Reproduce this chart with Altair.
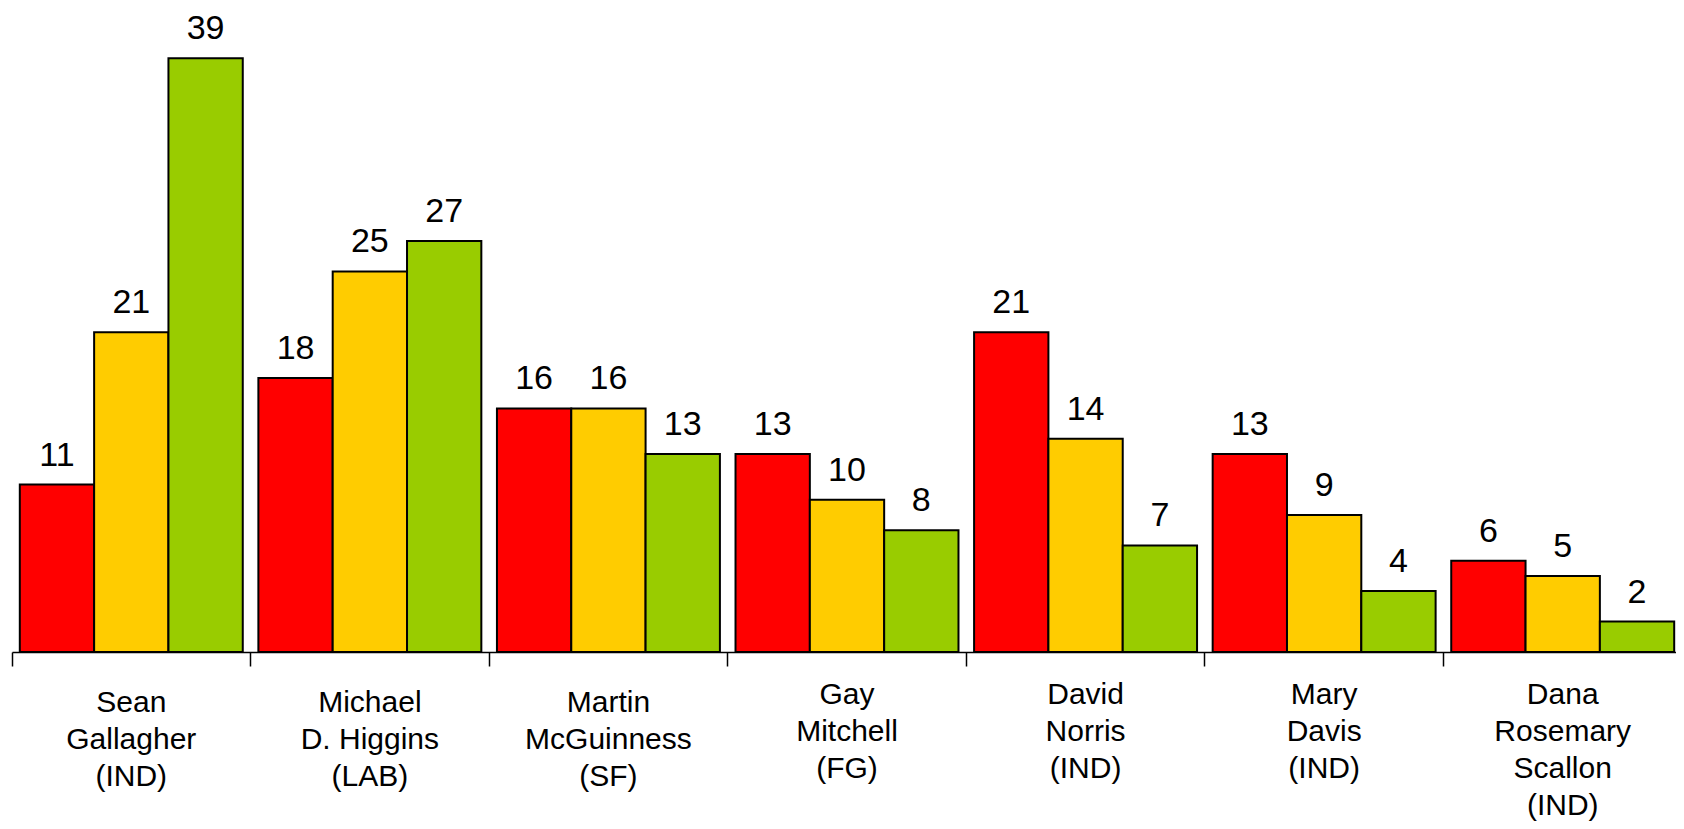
import altair as alt
import pandas as pd

candidates = [
    "Sean|Gallagher|(IND)",
    "Michael|D. Higgins|(LAB)",
    "Martin|McGuinness|(SF)",
    "Gay|Mitchell|(FG)",
    "David|Norris|(IND)",
    "Mary|Davis|(IND)",
    "Dana|Rosemary|Scallon|(IND)",
]
series = ["S1", "S2", "S3"]
colors = ["#FF0000", "#FFCC00", "#99CC00"]
values_s1 = [11, 18, 16, 13, 21, 13, 6]
values_s2 = [21, 25, 16, 10, 14, 9, 5]
values_s3 = [39, 27, 13, 8, 7, 4, 2]

rows = []
for i, c in enumerate(candidates):
    for s, vals in zip(series, [values_s1, values_s2, values_s3]):
        rows.append({"candidate": c, "series": s, "value": vals[i]})
df = pd.DataFrame(rows)

FONT = "Liberation Sans"

first_three = "[" + ",".join("'" + c + "'" for c in candidates[:3]) + "]"
pad_cond = {
    "condition": {"test": f"indexof({first_three}, datum.value) >= 0", "value": 21},
    "value": 13,
}

x_enc = alt.X(
    "candidate:N",
    sort=candidates,
    scale=alt.Scale(paddingInner=0, paddingOuter=0),
    axis=alt.Axis(
        title=None,
        labelAngle=0,
        labelExpr="split(datum.label, '|')",
        labelFont=FONT,
        labelFontSize=30,
        labelColor="black",
        labelLineHeight=37,
        labelPadding=pad_cond,
        labelLimit=400,
        labelAlign="center",
        labelBaseline="top",
        bandPosition=0,
        tickSize=14,
        tickWidth=1.5,
        tickColor="black",
        domainColor="black",
        domainWidth=1.5,
        grid=False,
    ),
)
xoff = alt.XOffset(
    "series:N",
    sort=series,
    scale=alt.Scale(paddingInner=0, paddingOuter=0.105),
)
y_enc = alt.Y(
    "value:Q",
    scale=alt.Scale(domain=[0, 40], nice=False),
    axis=None,
)

noview = alt.ViewBackground(stroke="transparent", strokeWidth=0, fill="white")

bars = alt.Chart(df).mark_bar(stroke="black", strokeWidth=2).encode(
    x=x_enc,
    xOffset=xoff,
    y=y_enc,
    color=alt.Color("series:N", scale=alt.Scale(domain=series, range=colors), legend=None),
)

labels = alt.Chart(df).mark_text(
    font=FONT, fontSize=34, baseline="alphabetic", align="center", dy=-19, color="black"
).encode(
    x=x_enc,
    xOffset=xoff,
    y=y_enc,
    text="value:Q",
)

chart = (
    alt.layer(bars, labels)
    .properties(
        width=1670,
        height=609,
        view=noview,
        autosize=alt.AutoSizeParams(type="none"),
        padding={"left": 4, "top": 35, "right": -6, "bottom": 169},
    )
    .configure_view(stroke="transparent", strokeWidth=0)
    .configure_axis(grid=False)
    .configure(background="white")
)

chart.save("out.html", embed_options={"renderer": "svg", "actions": False})
